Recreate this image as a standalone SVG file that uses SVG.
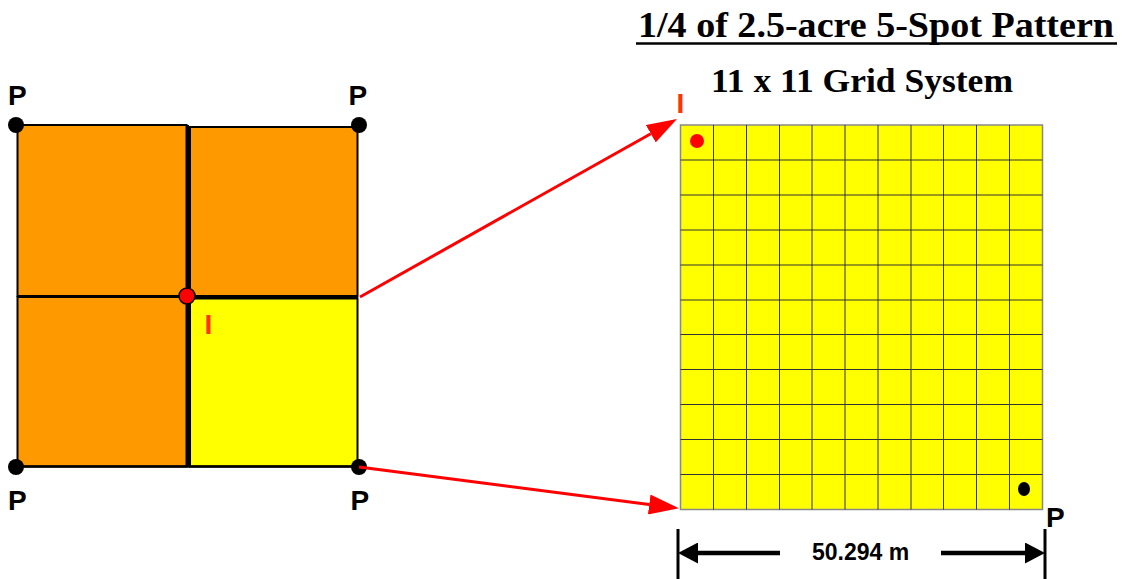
<svg xmlns="http://www.w3.org/2000/svg" width="1125" height="579" viewBox="0 0 1125 579">
<style>
.lbl{font-family:"Liberation Sans",Arial,sans-serif;font-weight:bold;font-size:28px;fill:#000}
.inj{font-family:"Liberation Sans",Arial,sans-serif;font-weight:bold;font-size:28px;fill:#FF3300}
.ttl{font-family:"Liberation Serif","Times New Roman",serif;font-weight:bold;fill:#000}
.dim{font-family:"Liberation Sans",Arial,sans-serif;font-weight:bold;font-size:23px;fill:#000}
.blk{stroke:#000;fill:none}
.org{fill:#FF9900;stroke:#000;stroke-width:2}
.yel{fill:#FFFF00;stroke:#000;stroke-width:2}
.well{fill:#000}
.red{stroke:#FF0000;stroke-width:3;fill:none}
</style>
<defs>
<marker id="rh" markerUnits="userSpaceOnUse" markerWidth="30" markerHeight="20" viewBox="0 0 30 20" refX="0" refY="10" orient="auto">
<path d="M0,0 L30,10 L0,20 Z" fill="#FF0000"/>
</marker>
<marker id="bh" markerUnits="userSpaceOnUse" markerWidth="20" markerHeight="21" viewBox="0 0 20 21" refX="0" refY="10.5" orient="auto">
<path d="M0,0 L20,10.5 L0,21 Z" fill="#000"/>
</marker>
</defs>

<g id="title">
<text class="ttl" x="638" y="37" font-size="36" textLength="476" lengthAdjust="spacingAndGlyphs">1/4 of 2.5-acre 5-Spot Pattern</text>
<line x1="636" y1="43.5" x2="1117" y2="43.5" stroke="#000" stroke-width="2.5"/>
</g>
<g id="subtitle">
<text class="ttl" x="711" y="92" font-size="34" textLength="302" lengthAdjust="spacingAndGlyphs">11 x 11 Grid System</text>
</g>

<g id="pattern">
<rect class="org" x="17.5" y="125" width="169" height="171"/>
<rect class="org" x="190" y="127" width="167.5" height="169"/>
<rect class="org" x="17.5" y="297" width="169" height="169.5"/>
<rect class="yel" x="190" y="298.5" width="167.5" height="168"/>
<line class="blk" x1="17" y1="296.5" x2="358" y2="296.5" stroke-width="3"/>
<line class="blk" x1="187.5" y1="125" x2="187.5" y2="467" stroke-width="3"/>
<line class="blk" x1="16" y1="466.5" x2="359" y2="466.5" stroke-width="2.5"/>
</g>

<g id="well-P-tl"><circle class="well" cx="16" cy="125" r="8"/><text class="lbl" x="8" y="105">P</text></g>
<g id="well-P-tr"><circle class="well" cx="359" cy="125" r="8"/><text class="lbl" x="348.5" y="105">P</text></g>
<g id="well-P-bl"><circle class="well" cx="16" cy="467" r="8"/><text class="lbl" x="8" y="510">P</text></g>
<g id="well-P-br"><circle class="well" cx="359" cy="467" r="8"/><text class="lbl" x="350.5" y="510">P</text></g>
<g id="well-I-center"><circle cx="187" cy="296" r="8" fill="#FF0000" stroke="#000" stroke-width="1.5"/><text class="inj" x="204.5" y="334">I</text></g>

<g id="grid">
<rect x="680.5" y="125" width="362" height="384.5" fill="#FFFF00" stroke="#888" stroke-width="1.5"/>
<path d="M713.5,125V509.5M746.5,125V509.5M779.5,125V509.5M812,125V509.5M845,125V509.5M878,125V509.5M911,125V509.5M943.5,125V509.5M976.5,125V509.5M1009.5,125V509.5M680.5,160H1042.5M680.5,195H1042.5M680.5,230H1042.5M680.5,265H1042.5M680.5,300H1042.5M680.5,334.5H1042.5M680.5,369.5H1042.5M680.5,404.5H1042.5M680.5,439.5H1042.5M680.5,474.5H1042.5" stroke="#333" stroke-width="1" fill="none"/>
</g>
<g id="grid-I"><circle cx="697" cy="141" r="7" fill="#FF0000"/><text class="inj" x="676.5" y="113">I</text></g>
<g id="grid-P"><ellipse cx="1024" cy="489" rx="6" ry="7" fill="#000"/><text class="lbl" x="1046" y="526.5">P</text></g>

<g id="connectors">
<line class="red" x1="360" y1="297" x2="650.8" y2="133.7" marker-end="url(#rh)"/>
<line class="red" x1="359" y1="467" x2="649.2" y2="504.5" marker-end="url(#rh)"/>
</g>

<g id="dimension">
<line class="blk" x1="678" y1="529" x2="678" y2="579" stroke-width="3"/>
<line class="blk" x1="1045" y1="529" x2="1045" y2="579" stroke-width="3"/>
<line class="blk" x1="780" y1="553" x2="698" y2="553" stroke-width="4.5" marker-end="url(#bh)"/>
<line class="blk" x1="941" y1="553" x2="1025" y2="553" stroke-width="4.5" marker-end="url(#bh)"/>
<text class="dim" x="812" y="560">50.294 m</text>
</g>
</svg>
